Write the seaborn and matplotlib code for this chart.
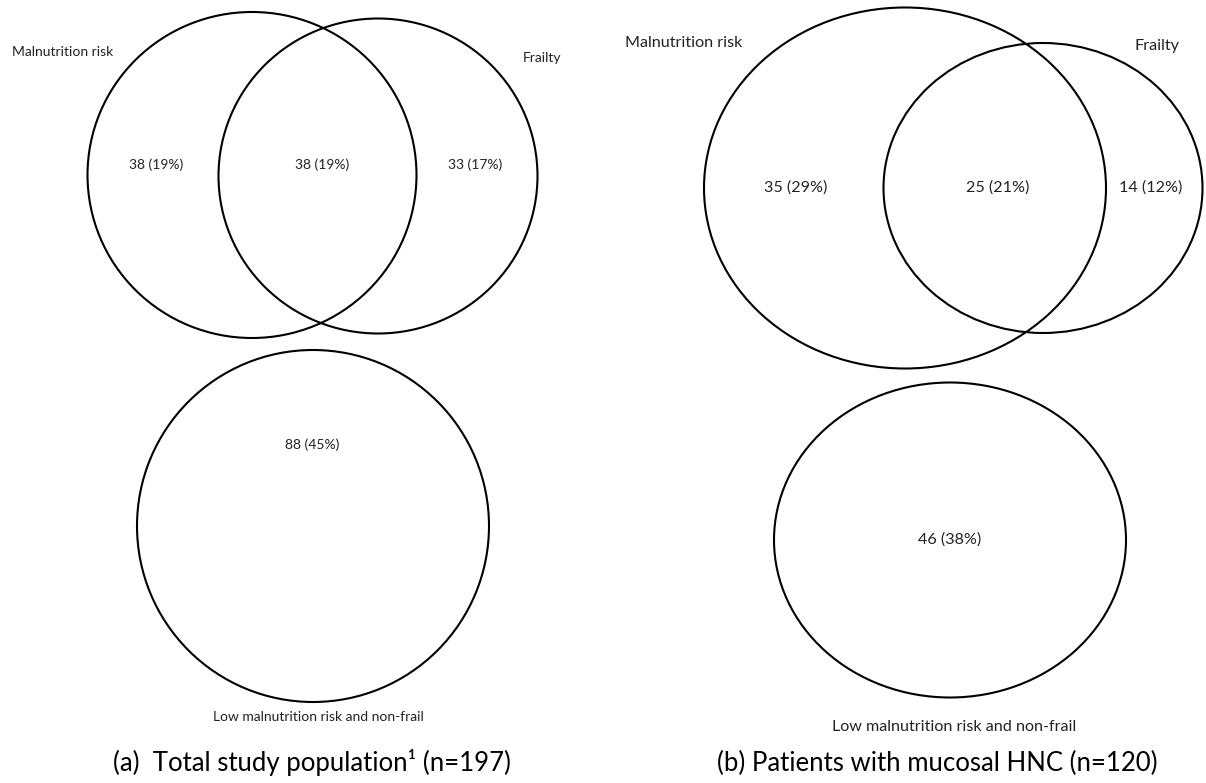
import matplotlib
matplotlib.use("Agg")
import matplotlib.pyplot as plt
from matplotlib.patches import Ellipse
import seaborn as sns

# values
set_names = ["Malnutrition risk", "Frailty"]
outside_label = "Low malnutrition risk and non-frail"
panel_captions = ["(a)  Total study population\u00b9 (n=197)",
                  "(b) Patients with mucosal HNC (n=120)"]
# order: malnutrition only, both, frailty only, neither
counts_a = [38, 38, 33, 88]
pct_a = [19, 19, 17, 45]
counts_b = [35, 25, 14, 46]
pct_b = [29, 21, 12, 38]

# layout in pixel coordinates (x from left, y from top)
panels = [
    {
        "circles": [(252, 175, 329, 326), (378, 176, 319, 315), (313, 526, 352, 352)],
        "name_pos": [(12, 52), (523, 58)],
        "count_pos": [(156, 165), (322, 165), (475, 165), (312, 445)],
        "outside_pos": (318, 717),
        "caption_pos": (312, 763),
        "small": 10,
    },
    {
        "circles": [(905, 188, 402, 361), (1043, 188, 319, 290), (950, 540, 352, 315)],
        "name_pos": [(625, 43), (1135, 46)],
        "count_pos": [(796, 188), (998, 188), (1151, 188), (950, 540)],
        "outside_pos": (954, 727),
        "caption_pos": (937, 763),
        "small": 11.6,
    },
]


def draw_panel(ax, layout, counts, pcts, caption):
    for cx, cy, w, h in layout["circles"]:
        ax.add_patch(Ellipse((cx, cy), w, h, fill=False, edgecolor="black", linewidth=1.5))

    fs = layout["small"]
    for name, (x, y) in zip(set_names, layout["name_pos"]):
        ax.text(x, y, name, ha="left", va="center", fontsize=fs, color="#222222")

    for c, p, (x, y) in zip(counts, pcts, layout["count_pos"]):
        ax.text(x, y, f"{c} ({p}%)", ha="center", va="center", fontsize=fs, color="#222222")

    x, y = layout["outside_pos"]
    ax.text(x, y, outside_label, ha="center", va="center", fontsize=fs, color="#222222")

    x, y = layout["caption_pos"]
    ax.text(x, y, caption, ha="center", va="center", fontsize=18.5, color="black")


sns.set_theme(style="white")
plt.rcParams["font.family"] = ["Lato", "DejaVu Sans"]

fig = plt.figure(figsize=(12.06, 7.83), dpi=100)
ax = fig.add_axes([0, 0, 1, 1])
ax.set_xlim(0, 1206)
ax.set_ylim(783, 0)
ax.axis("off")

draw_panel(ax, panels[0], counts_a, pct_a, panel_captions[0])
draw_panel(ax, panels[1], counts_b, pct_b, panel_captions[1])

fig.savefig("out.png", dpi=100, facecolor="white")
